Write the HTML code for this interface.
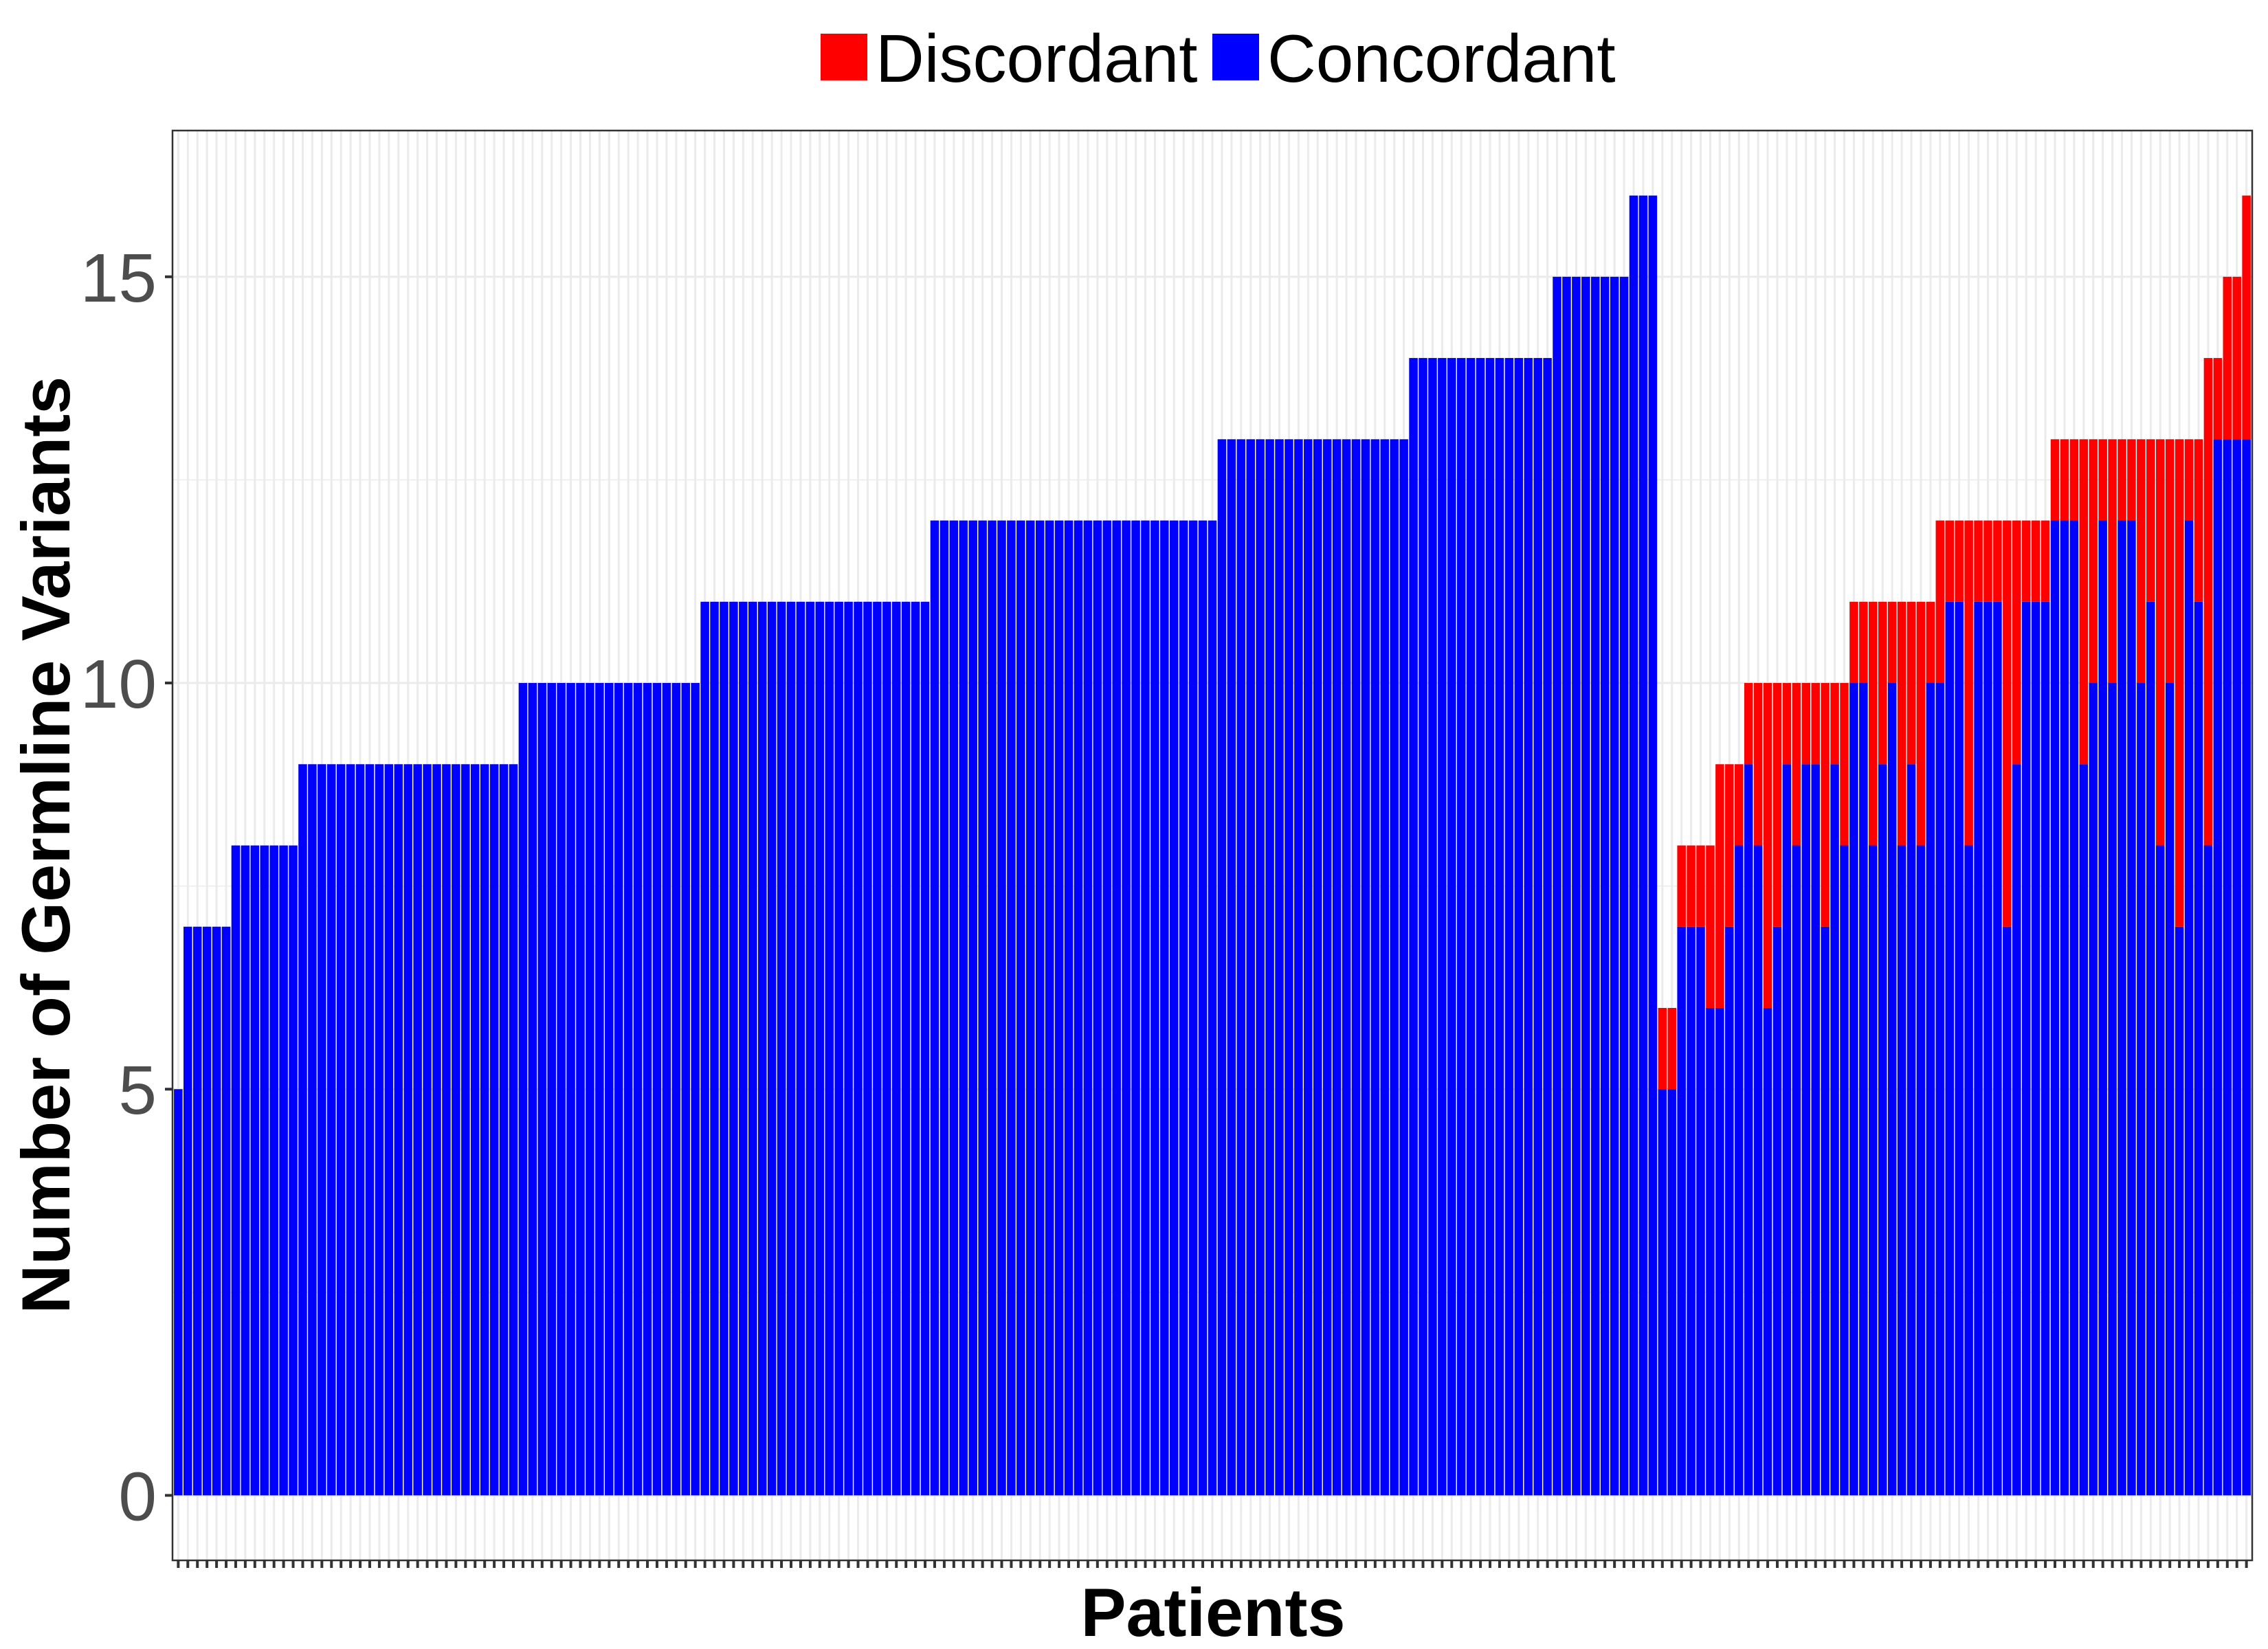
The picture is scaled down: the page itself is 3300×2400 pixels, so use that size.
<!DOCTYPE html>
<html><head><meta charset="utf-8"><style>
html,body{margin:0;padding:0;background:#fff;}
svg{display:block;font-family:"Liberation Sans",Arial,sans-serif;}
</style></head><body>
<svg id="chart" width="3300" height="2400" viewBox="0 0 3300 2400" xmlns="http://www.w3.org/2000/svg">
<rect x="0" y="0" width="3300" height="2400" fill="#fff"/>
<g>
<rect x="1194" y="49" width="68" height="68" fill="#ff0000"/>
<text x="1274" y="119" font-size="98" fill="#000">Discordant</text>
<rect x="1764" y="49" width="68" height="68" fill="#0000ff"/>
<text x="1844" y="119" font-size="98" fill="#000">Concordant</text>
</g>
<g id="grid"></g>
<g id="bars"></g>
<g id="axes"></g>
<text x="1765" y="2381" font-size="99" font-weight="bold" text-anchor="middle" fill="#000">Patients</text>
<text x="101" y="1230" font-size="99" font-weight="bold" text-anchor="middle" fill="#000" transform="rotate(-90 101 1230)">Number of Germline Variants</text>
</svg>
<script>
const concordant = [
5,7,7,7,7,7,8,8,8,8,8,8,8,
9,9,9,9,9,9,9,9,9,9,9,9,9,9,9,9,9,9,9,9,9,9,9,
10,10,10,10,10,10,10,10,10,10,10,10,10,10,10,10,10,10,10,
11,11,11,11,11,11,11,11,11,11,11,11,11,11,11,11,11,11,11,11,11,11,11,11,
12,12,12,12,12,12,12,12,12,12,12,12,12,12,12,12,12,12,12,12,12,12,12,12,12,12,12,12,12,12,
13,13,13,13,13,13,13,13,13,13,13,13,13,13,13,13,13,13,13,13,
14,14,14,14,14,14,14,14,14,14,14,14,14,14,14,
15,15,15,15,15,15,15,15,
16,16,16,
5,5,7,7,7,6,6,7,8,9,8,6,7,9,8,9,9,7,9,8,10,10,8,9,10,8,9,8,10,10,
11,11,8,11,11,11,7,9,11,11,11,12,12,12,9,10,12,10,12,12,10,11,8,10,7,12,11,8,13,13,13,13
];
const discordant = [
0,0,0,0,0,0,0,0,0,0,0,0,0,0,0,0,0,0,0,0,
0,0,0,0,0,0,0,0,0,0,0,0,0,0,0,0,0,0,0,0,
0,0,0,0,0,0,0,0,0,0,0,0,0,0,0,0,0,0,0,0,
0,0,0,0,0,0,0,0,0,0,0,0,0,0,0,0,0,0,0,0,
0,0,0,0,0,0,0,0,0,0,0,0,0,0,0,0,0,0,0,0,
0,0,0,0,0,0,0,0,0,0,0,0,0,0,0,0,0,0,0,0,
0,0,0,0,0,0,0,0,0,0,0,0,0,0,0,0,0,0,0,0,
0,0,0,0,0,0,0,0,0,0,0,0,0,0,0,
1,1,1,1,1,2,3,2,1,1,2,4,3,1,2,1,1,3,1,2,1,1,3,2,1,3,2,3,1,2,
1,1,4,1,1,1,5,3,1,1,1,1,1,1,4,3,1,3,1,1,3,2,5,3,6,1,2,6,1,2,2,3
];
const yTicks = [0,5,10,15];
const yTickLabels = ["0","5","10","15"];
const yMinor = [2.5,7.5,12.5];

const NS = "http://www.w3.org/2000/svg";
const n = concordant.length;
const patients = [];
for (let i = 0; i < n; i++) patients.push("P" + (i + 1));
const L = 251, R = 3277, T = 190, B = 2271;
const pitch = (R - L) / (n - 1 + 1.2);
function xScale(i) { return L + (i + 0.6) * pitch; }
let maxV = 0;
for (let i = 0; i < n; i++) maxV = Math.max(maxV, concordant[i] + discordant[i]);
const yLo = -0.05 * maxV, yHi = maxV * 1.05;
function yScale(v) { return B - (v - yLo) / (yHi - yLo) * (B - T); }
function mk(tag, attrs, parent) {
  const e = document.createElementNS(NS, tag);
  for (const k in attrs) e.setAttribute(k, attrs[k]);
  parent.appendChild(e);
  return e;
}
const grid = document.getElementById('grid');
const bars = document.getElementById('bars');
const axes = document.getElementById('axes');
yMinor.forEach(v => {
  const l = mk('line', {x1: L, x2: R, y1: yScale(v), y2: yScale(v), stroke: '#ebebeb', 'stroke-width': 1.5}, grid);
  
  
});
yTicks.forEach(v => {
  const l = mk('line', {x1: L, x2: R, y1: yScale(v), y2: yScale(v), stroke: '#ebebeb', 'stroke-width': 3}, grid);
  
  
});
patients.forEach((p, i) => {
  const l = mk('line', {x1: xScale(i), x2: xScale(i), y1: T, y2: B, stroke: '#ebebeb', 'stroke-width': 3}, grid);
  
  
});
const bw = pitch * 0.9;
patients.forEach((p, i) => {
  const c = concordant[i], d = discordant[i];
  const r1 = mk('rect', {x: xScale(i) - bw / 2, y: yScale(c), width: bw, height: yScale(0) - yScale(c), fill: '#0000ff'}, bars);
  
  
  if (d > 0) {
    const r2 = mk('rect', {x: xScale(i) - bw / 2, y: yScale(c + d), width: bw, height: yScale(c) - yScale(c + d), fill: '#ff0000'}, bars);
    
    
  }
});
const border = mk('rect', {x: L, y: T, width: R - L, height: B - T, fill: 'none', stroke: '#333333', 'stroke-width': 2.5}, axes);


yTicks.forEach((v, k) => {
  const t = mk('line', {x1: L - 11, x2: L, y1: yScale(v), y2: yScale(v), stroke: '#333333', 'stroke-width': 4}, axes);
  
  
  const tx = mk('text', {x: 228, y: yScale(v) + 36, 'font-size': 100, 'text-anchor': 'end', fill: '#4d4d4d'}, axes);
  tx.textContent = yTickLabels[k];
  
  
});
patients.forEach((p, i) => {
  const t = mk('line', {x1: xScale(i), x2: xScale(i), y1: B, y2: B + 11, stroke: '#333333', 'stroke-width': 4}, axes);
  
  
});
</script>
</body></html>
